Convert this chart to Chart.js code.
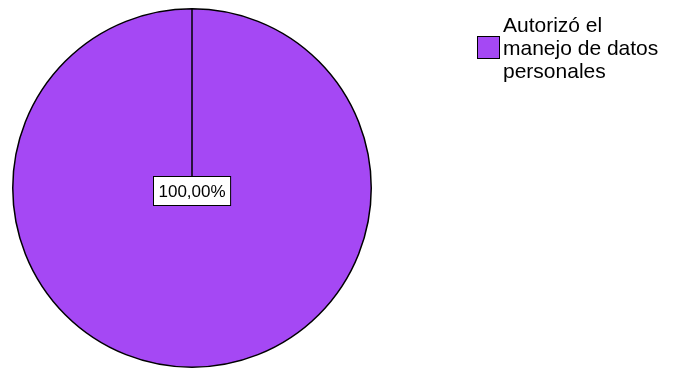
<!DOCTYPE html>
<html>
<head>
<meta charset="utf-8">
<script src="https://cdn.jsdelivr.net/npm/chart.js@4.4.1/dist/chart.umd.min.js"></script>
<style>
html, body { margin: 0; padding: 0; background: #fff; }
</style>
</head>
<body>
<canvas id="chart-pie" width="677" height="383"></canvas>
<script>
var categories = ['Autorizó el manejo de datos personales'];
var legendLines = [['Autorizó el', 'manejo de datos', 'personales']];
var values = [100];
var sliceColors = ['#a548f4'];

var fontFamily = '"Liberation Sans", Arial, sans-serif';

// percentage label in a white box at the slice
var pctLabels = {
    id: 'pctLabels',
    afterDatasetsDraw: function(chart) {
        var ctx = chart.ctx;
        var meta = chart.getDatasetMeta(0);
        var data = chart.data.datasets[0].data;
        var total = data.reduce(function(a, b) { return a + b; }, 0);
        meta.data.forEach(function(arc, i) {
            var pct = (data[i] / total * 100).toFixed(2).replace('.', ',') + '%';
            var x = arc.x, y = arc.y;
            if (data[i] < total) {
                var pos = arc.tooltipPosition();
                x = pos.x; y = pos.y;
            }
            ctx.save();
            ctx.font = '17px ' + fontFamily;
            var w = ctx.measureText(pct).width + 10;
            var h = 29;
            var bx = Math.round(x - w / 2) + 0.5;
            var by = Math.round(y + 2 - h / 2) + 0.5;
            ctx.fillStyle = '#fff';
            ctx.fillRect(bx, by, w, h);
            ctx.strokeStyle = '#000';
            ctx.lineWidth = 1;
            ctx.strokeRect(bx, by, w, h);
            ctx.fillStyle = '#000';
            ctx.textAlign = 'center';
            ctx.textBaseline = 'middle';
            ctx.fillText(pct, bx + w / 2, by + h / 2 + 1);
            ctx.restore();
        });
    }
};

// legend on the right, with wrapped label
var sideLegend = {
    id: 'sideLegend',
    afterDraw: function(chart) {
        var ctx = chart.ctx;
        ctx.save();
        legendLines.forEach(function(lines, i) {
            var top = 15 + i * 80;
            ctx.fillStyle = sliceColors[i];
            ctx.fillRect(477.5, top + 21.5, 22, 22);
            ctx.strokeStyle = '#000';
            ctx.lineWidth = 1;
            ctx.strokeRect(477.5, top + 21.5, 22, 22);
            ctx.fillStyle = '#000';
            ctx.font = '21px ' + fontFamily;
            ctx.textAlign = 'left';
            ctx.textBaseline = 'alphabetic';
            lines.forEach(function(line, j) {
                ctx.fillText(line, 503, top + 17 + j * 23);
            });
        });
        ctx.restore();
    }
};

new Chart(document.getElementById('chart-pie'), {
    type: 'pie',
    data: {
        labels: categories,
        datasets: [{
            data: values,
            backgroundColor: sliceColors,
            borderColor: '#000',
            borderWidth: 1.5
        }]
    },
    options: {
        responsive: false,
        animation: false,
        devicePixelRatio: 1,
        layout: { padding: { left: 12, top: 8, right: 305, bottom: 15 } },
        plugins: {
            legend: { display: false },
            tooltip: { enabled: false }
        }
    },
    plugins: [pctLabels, sideLegend]
});
</script>
</body>
</html>
